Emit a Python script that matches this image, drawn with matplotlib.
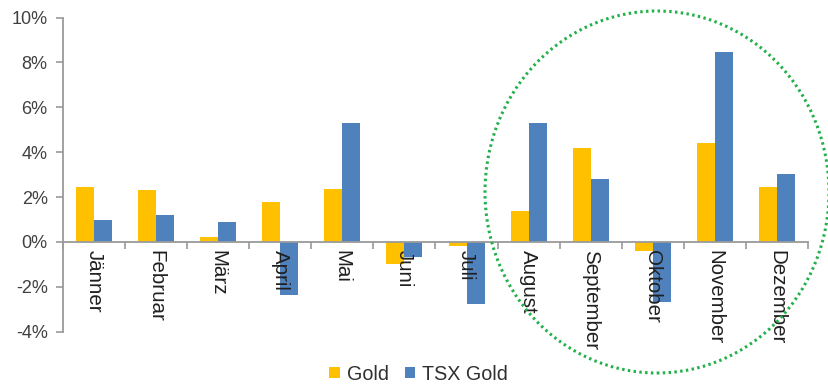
import numpy as np
import matplotlib.pyplot as plt
from matplotlib.patches import Ellipse
from matplotlib.ticker import FuncFormatter

plt.rcParams['font.family'] = ['Liberation Sans', 'DejaVu Sans']

months = ['Jänner', 'Februar', 'März', 'April', 'Mai', 'Juni', 'Juli',
          'August', 'September', 'Oktober', 'November', 'Dezember']
gold = [2.43, 2.31, 0.2, 1.77, 2.37, -1.0, -0.19, 1.4, 4.17, -0.4, 4.39, 2.46]
tsx_gold = [0.97, 1.21, 0.88, -2.38, 5.29, -0.67, -2.78, 5.29, 2.79, -2.69, 8.48, 3.01]

W, H = 829, 385
fig = plt.figure(figsize=(W / 100, H / 100), dpi=100)
ax = fig.add_axes([63 / W, 1 - 331.7 / H, (808 - 63) / W, (331.7 - 17.5) / H])

x = np.arange(len(months))
bw = 0.29
ax.bar(x - bw / 2, gold, bw, color='#FFC000', label='Gold', zorder=1)
ax.bar(x + bw / 2, tsx_gold, bw, color='#4F81BD', label='TSX Gold', zorder=1)
ax.set_axisbelow(False)  # month names drawn over the bars

ax.set_xlim(-0.5, len(months) - 0.5)
ax.set_ylim(-4, 10)
ax.set_yticks(np.arange(-4, 11, 2))
ax.yaxis.set_major_formatter(FuncFormatter(lambda v, p: f'{v:.0f}%'))

axis_col = '#9A9A9A'
for s in ['top', 'right']:
    ax.spines[s].set_visible(False)
ax.spines['bottom'].set_position(('data', 0))
ax.spines['bottom'].set_color(axis_col)
ax.spines['left'].set_color(axis_col)
ax.spines['bottom'].set_linewidth(1.3)
ax.spines['left'].set_linewidth(1.3)

ax.tick_params(axis='y', colors=axis_col, labelcolor='#404040', labelsize=13,
               length=5, width=1.2, pad=6)

# month labels at centres, tick marks at category boundaries
ax.set_xticks(x)
ax.set_xticklabels(months, rotation=270, fontsize=14.8, color='#202020',
                   va='top', ha='center')
ax.tick_params(axis='x', which='major', length=0, pad=6)
ax.set_xticks(np.arange(-0.5, len(months), 1), minor=True)
ax.tick_params(axis='x', which='minor', length=5, width=1.2, colors=axis_col,
               direction='out')

fig.legend(loc='center', bbox_to_anchor=(0.505, 1 - 374 / H), ncol=2,
           frameon=False, fontsize=14.2, handlelength=0.55, handleheight=0.55,
           handletextpad=0.35, columnspacing=0.8, labelcolor='#303030')

circle = Ellipse((657 / W, 1 - 192 / H), 344 / W, 362 / H,
                 transform=fig.transFigure, fill=False, edgecolor='#22B04A',
                 linestyle=(0, (0.8, 1.1)), linewidth=2.2, zorder=5)
fig.add_artist(circle)

fig.savefig('out.png', dpi=100)
